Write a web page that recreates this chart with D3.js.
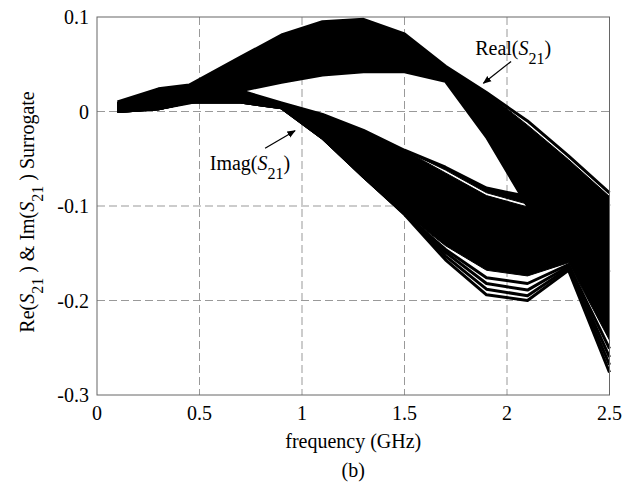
<!DOCTYPE html>
<html>
<head>
<meta charset="utf-8">
<script src="https://cdnjs.cloudflare.com/ajax/libs/d3/7.8.5/d3.min.js"></script>
<style>
  body { margin: 0; background: #fff; }
  text { font-family: 'Liberation Serif', 'Times New Roman', Times, serif; }
  .grid line { stroke: #999; stroke-width: 1; stroke-dasharray: 8 4; }
  .frame { fill: none; stroke: #666; stroke-width: 1; }
  .tick-label { font-size: 20px; fill: #000; }
  .core { fill: #000; stroke: #000; stroke-width: 1; stroke-linejoin: round; }
  .curve { fill: none; stroke: #000; stroke-width: 3; stroke-linejoin: round; }
  .note { font-size: 20px; fill: #000; }
</style>
</head>
<body>
<div id="chart"></div>
<script>
// sample frequencies (GHz)
const freq = [0.1, 0.3, 0.45, 0.7, 0.9, 1.1, 1.3, 1.5, 1.7, 1.9, 2.1, 2.3, 2.5];

// Real(S21) family: outermost trace on top, then the dense bundle
const realTop   = [0.010, 0.024, 0.028, 0.0575, 0.081, 0.095, 0.0975, 0.082, 0.048, 0.020, -0.010, -0.047, -0.086];
const realInner = [0.010, 0.024, 0.028, 0.0575, 0.081, 0.095, 0.0975, 0.082, 0.048, 0.020, -0.0145, -0.051, -0.090];
const realBot   = [0.000, 0.003, 0.009, 0.022, 0.031, 0.0386, 0.042, 0.042, 0.032, -0.027, -0.100, -0.130, -0.170];

// Imag(S21) family: upper sub-bundle, main bundle, outer traces at the bottom
const imagTop      = [0.005, 0.012, 0.014, 0.022, 0.009, -0.003, -0.020, -0.041, -0.059, -0.081, -0.090, -0.060, -0.100];
const imagUpperLow = [0.005, 0.012, 0.014, 0.022, 0.009, -0.003, -0.020, -0.041, -0.062, -0.086, -0.098, -0.070, -0.110];
const imagCoreTop  = [0.005, 0.012, 0.014, 0.022, 0.009, -0.003, -0.020, -0.041, -0.065, -0.089, -0.101, -0.073, -0.113];
const imagBot      = [0.000, 0.003, 0.010, 0.010, 0.004, -0.028, -0.069, -0.108, -0.142, -0.168, -0.174, -0.160, -0.242];
const imagOuter = [
  [0.000, 0.003, 0.010, 0.010, 0.004, -0.028, -0.069, -0.109, -0.157, -0.194, -0.200, -0.168, -0.276],
  [0.000, 0.003, 0.010, 0.010, 0.004, -0.028, -0.069, -0.108, -0.153, -0.188, -0.195, -0.166, -0.268],
  [0.000, 0.003, 0.010, 0.010, 0.004, -0.028, -0.069, -0.108, -0.149, -0.182, -0.189, -0.164, -0.260],
  [0.000, 0.003, 0.010, 0.010, 0.004, -0.028, -0.069, -0.108, -0.146, -0.176, -0.182, -0.162, -0.251]
];

const xTicks = [0, 0.5, 1, 1.5, 2, 2.5];
const yTicks = [0.1, 0, -0.1, -0.2, -0.3];

// annotation anchors in data units
const realLabel = { x: 1.845, y: 0.0598 };
const realArrow = [[2.02, 0.053], [1.885, 0.0298]];
const imagLabel = { x: 0.55, y: -0.062 };
const imagArrow = [[0.82, -0.039], [0.966, -0.0203]];

const width = 633, height = 485;
const margin = { left: 97, top: 17, right: 23.5, bottom: 90 };
const iw = width - margin.left - margin.right;
const ih = height - margin.top - margin.bottom;

const svg = d3.select('#chart').append('svg')
  .attr('width', width)
  .attr('height', height);

const x = d3.scaleLinear().domain([0, 2.5]).range([margin.left, margin.left + iw]);
const y = d3.scaleLinear().domain([-0.3, 0.1]).range([margin.top + ih, margin.top]);

// grid
const grid = svg.append('g').attr('class', 'grid');
grid.selectAll('.gx').data(xTicks.slice(1, -1)).enter().append('line')
  .attr('x1', d => x(d)).attr('x2', d => x(d))
  .attr('y1', margin.top).attr('y2', margin.top + ih);
grid.selectAll('.gy').data(yTicks.slice(1, -1)).enter().append('line')
  .attr('x1', margin.left).attr('x2', margin.left + iw)
  .attr('y1', d => y(d)).attr('y2', d => y(d));

// bands
const band = (top, bot) => d3.area()
  .x((d, i) => x(freq[i]))
  .y0((d, i) => y(bot[i]))
  .y1((d, i) => y(top[i]))(freq);
const line = d3.line().x((d, i) => x(freq[i])).y(d => y(d));

const plot = svg.append('g');
// imag first, so the real bundle covers it where they cross
plot.append('path').attr('class', 'core').attr('d', band(imagTop, imagUpperLow));
plot.append('path').attr('class', 'core').attr('d', band(imagCoreTop, imagBot));
plot.append('path').attr('class', 'curve').attr('d', line(imagTop));
plot.selectAll('.outer').data(imagOuter).enter().append('path')
  .attr('class', 'curve outer')
  .attr('d', d => line(d));
plot.append('path').attr('class', 'core').attr('d', band(realInner, realBot));
plot.append('path').attr('class', 'curve').attr('d', line(realTop));
plot.append('path').attr('class', 'curve').attr('d', line(realBot));

// frame
svg.append('rect').attr('class', 'frame')
  .attr('x', margin.left).attr('y', margin.top)
  .attr('width', iw).attr('height', ih);

// tick labels
svg.selectAll('.xl').data(xTicks).enter().append('text')
  .attr('class', 'tick-label')
  .attr('x', d => x(d)).attr('y', margin.top + ih + 25)
  .attr('text-anchor', 'middle')
  .text(d => String(d));
svg.selectAll('.yl').data(yTicks).enter().append('text')
  .attr('class', 'tick-label')
  .attr('x', margin.left - 8).attr('y', d => y(d) + 7)
  .attr('text-anchor', 'end')
  .text(d => String(d));

// axis titles
svg.append('text').attr('class', 'note')
  .attr('x', x(1.25)).attr('y', 448)
  .attr('text-anchor', 'middle')
  .text('frequency (GHz)');
svg.append('text').attr('class', 'note')
  .attr('x', x(1.25)).attr('y', 477)
  .attr('text-anchor', 'middle')
  .attr('font-size', 17)
  .text('(b)');

function s21(sel, prefix, tail) {
  sel.append('tspan').text(prefix);
  sel.append('tspan').attr('font-style', 'italic').text('S');
  sel.append('tspan').attr('dy', 9).attr('font-size', 16).text('21');
  sel.append('tspan').attr('dy', -9).text(tail);
}

const yt = svg.append('text').attr('class', 'note')
  .attr('transform', `translate(34,${212}) rotate(-90)`)
  .attr('text-anchor', 'middle');
s21(yt, 'Re(', ' ) & Im(');
yt.append('tspan').attr('font-style', 'italic').text('S');
yt.append('tspan').attr('dy', 9).attr('font-size', 16).text('21');
yt.append('tspan').attr('dy', -9).text(' ) Surrogate');

// annotations
svg.append('defs').append('marker')
  .attr('id', 'head').attr('viewBox', '0 0 10 10')
  .attr('refX', 9).attr('refY', 5)
  .attr('markerWidth', 7).attr('markerHeight', 7)
  .attr('orient', 'auto')
  .append('path').attr('d', 'M0,1 L10,5 L0,9 Z').attr('fill', '#000');

const rl = svg.append('text').attr('class', 'note')
  .attr('x', x(realLabel.x)).attr('y', y(realLabel.y));
s21(rl, 'Real(', ')');
const il = svg.append('text').attr('class', 'note')
  .attr('x', x(imagLabel.x)).attr('y', y(imagLabel.y));
s21(il, 'Imag(', ')');

[realArrow, imagArrow].forEach(a => {
  svg.append('line')
    .attr('x1', x(a[0][0])).attr('y1', y(a[0][1]))
    .attr('x2', x(a[1][0])).attr('y2', y(a[1][1]))
    .attr('stroke', '#000').attr('stroke-width', 1.2)
    .attr('marker-end', 'url(#head)');
});
</script>
</body>
</html>
